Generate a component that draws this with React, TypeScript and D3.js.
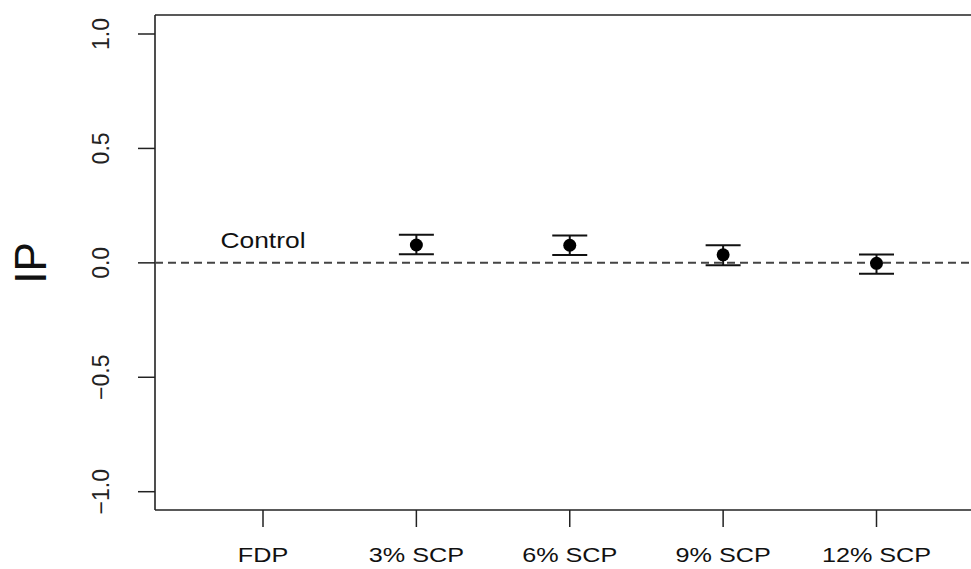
import React, { useRef, useEffect } from "react";
import * as d3 from "d3";

const categories = ["FDP", "3% SCP", "6% SCP", "9% SCP", "12% SCP"];
const pointCats = ["3% SCP", "6% SCP", "9% SCP", "12% SCP"];
const means = [0.078, 0.077, 0.035, -0.002];
const upper = [0.123, 0.12, 0.077, 0.037];
const lower = [0.038, 0.034, -0.01, -0.048];
const yTicks = [-1.0, -0.5, 0.0, 0.5, 1.0];

const W = 971;
const H = 569;

function App() {
  const svgRef = useRef<SVGSVGElement>(null);

  useEffect(() => {
    const svg = d3.select(svgRef.current);
    svg.selectAll("*").remove();

    const font = "Liberation Sans, Arial, sans-serif";
    // the right side of the frame runs off the page, as in the source figure
    const box = { left: 155, top: 15, bottom: 510, right: W + 40 };

    // category positions 1..5
    const x = d3.scaleLinear().domain([1, 5]).range([263, 876.5]);
    const y = d3.scaleLinear().domain([-1, 1]).range([491.7, 34]);
    const xPos = (c: string) => x(categories.indexOf(c) + 1);

    // frame: top, left and bottom sides only
    svg
      .append("line")
      .attr("x1", box.left)
      .attr("x2", box.right)
      .attr("y1", box.top)
      .attr("y2", box.top)
      .attr("stroke", "#222")
      .attr("stroke-width", 1.6);
    svg
      .append("line")
      .attr("x1", box.left)
      .attr("x2", box.right)
      .attr("y1", box.bottom)
      .attr("y2", box.bottom)
      .attr("stroke", "#222")
      .attr("stroke-width", 1.6);
    svg
      .append("line")
      .attr("x1", box.left)
      .attr("x2", box.left)
      .attr("y1", box.top)
      .attr("y2", box.bottom)
      .attr("stroke", "#222")
      .attr("stroke-width", 1.6);

    // y axis
    const yAxis = svg.append("g");
    yAxis
      .selectAll("line")
      .data(yTicks)
      .join("line")
      .attr("x1", box.left)
      .attr("x2", box.left - 17)
      .attr("y1", (d) => y(d))
      .attr("y2", (d) => y(d))
      .attr("stroke", "#222")
      .attr("stroke-width", 1.5);
    yAxis
      .selectAll("text")
      .data(yTicks)
      .join("text")
      .attr("transform", (d) => `translate(109,${y(d)}) rotate(-90)`)
      .attr("text-anchor", "middle")
      .attr("font-family", font)
      .attr("font-size", 23)
      .attr("fill", "#222")
      .text((d) => d3.format(".1f")(d));

    // x axis
    const xAxis = svg.append("g");
    xAxis
      .selectAll("line")
      .data(categories)
      .join("line")
      .attr("x1", (d) => xPos(d))
      .attr("x2", (d) => xPos(d))
      .attr("y1", box.bottom)
      .attr("y2", box.bottom + 17)
      .attr("stroke", "#222")
      .attr("stroke-width", 1.5);
    xAxis
      .selectAll("text")
      .data(categories)
      .join("text")
      .attr("transform", (d) => `translate(${xPos(d)},562) scale(1.2,1)`)
      .attr("text-anchor", "middle")
      .attr("font-family", font)
      .attr("font-size", 21)
      .attr("fill", "#111")
      .text((d) => d);

    // axis title
    svg
      .append("text")
      .attr("transform", `translate(46,${y(0)}) rotate(-90)`)
      .attr("text-anchor", "middle")
      .attr("font-family", font)
      .attr("font-size", 44)
      .attr("fill", "#111")
      .text("IP");

    // control reference line
    svg
      .append("line")
      .attr("x1", box.left)
      .attr("x2", box.right)
      .attr("y1", y(0))
      .attr("y2", y(0))
      .attr("stroke", "#444")
      .attr("stroke-width", 2)
      .attr("stroke-dasharray", "8,5");

    svg
      .append("text")
      .attr("transform", `translate(${x(1)},248) scale(1.2,1)`)
      .attr("text-anchor", "middle")
      .attr("font-family", font)
      .attr("font-size", 22)
      .attr("fill", "#111")
      .text("Control");

    // error bars
    const bars = svg.append("g");
    pointCats.forEach((c, i) => {
      const cx = xPos(c);
      bars
        .append("line")
        .attr("x1", cx)
        .attr("x2", cx)
        .attr("y1", y(upper[i]))
        .attr("y2", y(lower[i]))
        .attr("stroke", "#111")
        .attr("stroke-width", 2);
      [upper[i], lower[i]].forEach((v) => {
        bars
          .append("line")
          .attr("x1", cx - 17.5)
          .attr("x2", cx + 17.5)
          .attr("y1", y(v))
          .attr("y2", y(v))
          .attr("stroke", "#111")
          .attr("stroke-width", 2);
      });
      bars
        .append("circle")
        .attr("cx", cx)
        .attr("cy", y(means[i]))
        .attr("r", 6.5)
        .attr("fill", "#000");
    });
  }, []);

  return (
    <div style={{ position: "absolute", left: 0, top: 0, width: W, height: H, background: "#fff", overflow: "hidden" }}>
      <svg ref={svgRef} width={W} height={H} style={{ display: "block", overflow: "hidden" }}></svg>
    </div>
  );
}

export default App;
